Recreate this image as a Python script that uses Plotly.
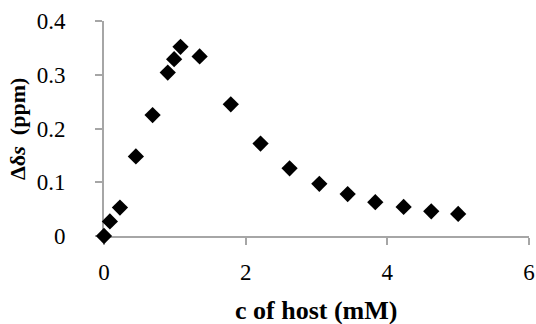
import plotly.graph_objects as go

host_mM = [0.0, 0.083, 0.225, 0.45, 0.686, 0.90, 0.99, 1.08, 1.35, 1.79, 2.21, 2.62, 3.04, 3.44, 3.83, 4.23, 4.62, 5.00]
delta_ppm = [0.0, 0.027, 0.053, 0.148, 0.225, 0.304, 0.329, 0.352, 0.334, 0.245, 0.172, 0.126, 0.097, 0.078, 0.063, 0.054, 0.046, 0.041]
x_ticks = [0, 2, 4, 6]
y_ticks = [0, 0.1, 0.2, 0.3, 0.4]
y_tick_labels = ["0", "0.1", "0.2", "0.3", "0.4"]

FONT = "Liberation Serif"
AXIS_COLOR = "#a6a6a6"

fig = go.Figure()
fig.add_trace(go.Scatter(
    x=host_mM, y=delta_ppm, mode="markers",
    marker=dict(symbol="diamond", size=12.5, color="black"),
    cliponaxis=False, showlegend=False, hoverinfo="skip",
))

fig.update_layout(
    width=536, height=324,
    margin=dict(l=104, r=7, t=21, b=88, autoexpand=False),
    paper_bgcolor="white", plot_bgcolor="white",
    font=dict(family=FONT, size=23, color="black"),
)
fig.update_xaxes(
    range=[0, 6], tickvals=x_ticks, ticktext=[str(v) for v in x_ticks],
    showgrid=False, zeroline=False, showline=True, linecolor=AXIS_COLOR, linewidth=2,
    ticks="outside", ticklen=7, tickcolor=AXIS_COLOR, tickwidth=1.75,
    ticklabelstandoff=7, ticklabeloverflow="allow",
    automargin=False, layer="below traces",
)
fig.update_yaxes(
    range=[0, 0.4], tickvals=y_ticks, ticktext=y_tick_labels,
    showgrid=False, zeroline=False, showline=True, linecolor=AXIS_COLOR, linewidth=2,
    ticks="outside", ticklen=7, tickcolor=AXIS_COLOR, tickwidth=1.75,
    ticklabelstandoff=25, ticklabeloverflow="allow",
    automargin=False, layer="below traces",
)

# axis titles
fig.add_annotation(
    text="<b>c of host (mM)</b>", xref="paper", yref="paper", x=0.499, y=0,
    xanchor="center", yanchor="middle", yshift=-74, showarrow=False,
    font=dict(family=FONT, size=26, color="black"),
)
fig.add_annotation(
    text="<b>Δδ<i>s</i>  (ppm)</b>", xref="paper", yref="paper", x=0, y=0.498,
    xanchor="center", yanchor="middle", xshift=-86, textangle=-90, showarrow=False,
    font=dict(family=FONT, size=22, color="black"),
)

fig.write_html(
    "out.html",
    config={"displayModeBar": False},
    post_script="document.body.style.margin='0';document.body.style.overflow='hidden';",
)
